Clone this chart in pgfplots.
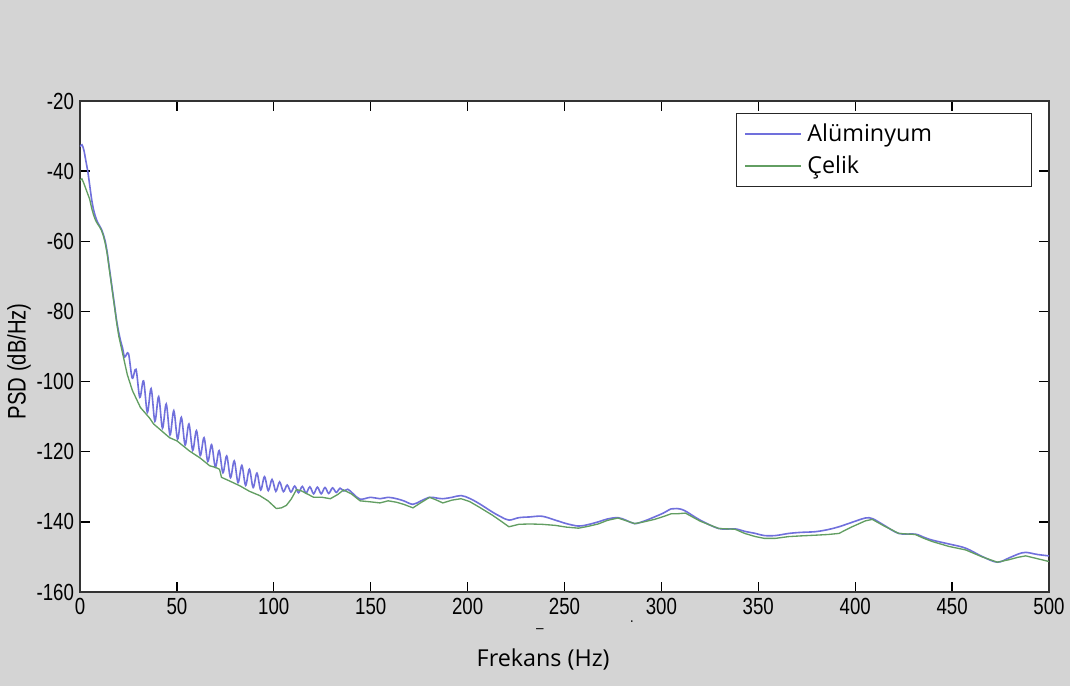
\documentclass[border=0pt]{standalone}
\usepackage{pgfplots}
\pgfplotsset{compat=1.18}
\usepackage{fontspec}
\setmainfont{Open Sans}
\newfontfamily\arialn[FakeStretch=0.8]{Liberation Sans}

\definecolor{bggrey}{RGB}{212,212,212}
\definecolor{alu}{RGB}{112,112,220}
\definecolor{celik}{RGB}{98,158,98}

\begin{document}
\begin{tikzpicture}
  % grey figure background and white plot area, 1 px = 0.75pt
  \fill[bggrey] (-60pt,-70.5pt) rectangle (742.5pt,444pt);
  \fill[white] (0pt,0pt) rectangle (726.75pt,368.25pt);
  \begin{axis}[
    at={(0,0)}, anchor=south west,
    scale only axis,
    width=726.75pt, height=368.25pt,
    xmin=0, xmax=500, ymin=-160, ymax=-20,
    xtick={0,50,...,500}, ytick={-160,-140,...,-20},
    tick align=inside, tick pos=both,
    major tick length=7.5pt,
    tick style={black, line width=1pt},
    axis line style={black!80, line width=0.8pt},
    /pgf/number format/assume math mode=true,
    tick label style={font=\arialn\fontsize{17.5}{20}\selectfont},
    xticklabel style={yshift=-1pt},
    yticklabel style={xshift=-1pt},
    xlabel={Frekans (Hz)},
    xlabel style={font=\fontsize{17.5}{20}\selectfont,
      at={(axis description cs:0.478,-0.138)}, anchor=center},
    ylabel={PSD (dB/Hz)},
    ylabel style={font=\arialn\fontsize{19}{22}\selectfont,
      at={(axis description cs:-0.063,0.47)}, anchor=center},
    legend style={at={(rel axis cs:0.677,0.9756)}, anchor=north west,
      draw=black!85, line width=0.8pt, fill=white,
      font=\fontsize{17.5}{20}\selectfont,
      inner xsep=6pt, inner ysep=6pt, row sep=5pt,
      nodes={inner xsep=4pt}},
    legend cell align=left,
    legend image code/.code={\draw[#1, line width=1.1pt] (0pt,0pt) -- (42pt,0pt);},
  ]
    \addplot[alu, line width=1.2pt, smooth, tension=0.55] coordinates {
      (0,-33) (1,-32.5) (2,-34) (3,-37) (4,-40) (5,-44) (6,-48) (7,-51)
      (8,-53) (9,-54.5) (10,-55.5) (11,-56.5) (12,-58) (13,-60) (14,-63)
      (15,-67) (16,-71) (17,-75) (18,-79) (19,-83) (20,-86) (21,-88.5)
      (22,-90.5) (23.05,-93) (25.0,-92) (26.95,-99) (28.9,-96.5)
      (30.85,-104.5) (32.8,-99.8) (34.75,-108.8) (36.7,-102) (38.65,-111.3)
      (40.6,-104.3) (42.55,-113.3) (44.5,-106.4) (46.45,-115.2) (48.4,-108.3)
      (50.35,-116.4) (52.3,-110.2) (54.25,-118.1) (56.2,-112.1) (58.15,-119.6)
      (60.1,-114) (62.05,-121.1) (64.0,-116) (65.95,-122.8) (67.9,-118)
      (69.85,-124.4) (71.8,-119.7) (73.75,-126) (75.7,-121.2) (77.65,-127.4)
      (79.6,-122.6) (81.55,-128.8) (83.5,-123.9) (85.45,-129.6) (87.4,-125)
      (89.35,-130.2) (91.3,-126.1) (93.25,-130.9) (95.2,-127.1) (97.15,-131.1)
      (99.1,-127.9) (101.05,-131.3) (103.0,-128.6) (104.95,-131.4)
      (106.9,-129.5) (108.85,-131.5) (110.8,-129.8) (112.75,-131.7)
      (114.7,-129.9) (116.65,-131.8) (118.6,-130) (120.55,-132) (122.5,-130.1)
      (124.45,-132) (126.4,-130.2) (128.35,-131.9) (130.3,-130.3)
      (132.25,-131.6) (134.2,-130.4) (136.15,-131.2) (138.1,-130.7)
      (140,-131.5) (144.5,-133.5) (150,-133) (154.8,-133.4) (159,-133)
      (163.3,-133.4) (167,-134) (171.8,-135) (176,-134) (180.4,-133)
      (184,-133.2) (187.2,-133.4) (192,-133) (196.6,-132.5) (201,-133.3)
      (206,-134.8) (212.8,-137.2) (217,-138.5) (221.3,-139.5) (226.5,-138.8)
      (232,-138.6) (238.4,-138.4) (245.2,-139.5) (251,-140.5) (257.2,-141.2)
      (262,-140.8) (267.4,-140) (272,-139.2) (277.6,-138.8) (282,-139.6)
      (286.2,-140.5) (291,-139.8) (296.4,-138.6) (301,-137.5) (305,-136.3)
      (308,-136.2) (312,-136.8) (320,-139.5) (329.6,-141.9) (338,-142)
      (343,-142.7) (348.5,-143.3) (353,-143.9) (358.9,-143.9) (365.7,-143.3)
      (372,-143) (379.5,-142.8) (386,-142.2) (391.6,-141.4) (398,-140.2)
      (405.3,-138.9) (409,-139.1) (415,-141) (422.5,-143.3) (431,-143.5)
      (435,-144.3) (439.7,-145.2) (448.3,-146.3) (457,-147.5) (465.6,-149.9)
      (473.3,-151.5) (479.3,-150.3) (484,-149.2) (488,-148.7) (494,-149.3)
      (500,-149.7)
    };
    \addlegendentry{\makebox[158pt][l]{Alüminyum}}

    \addplot[celik, line width=1pt] coordinates {
      (0,-42.6) (1,-42.2) (2,-43.5) (3,-45) (4,-46.5) (5,-48) (6,-50.5)
      (7,-52.5) (8,-54) (9,-55) (10,-55.8) (11,-56.8) (12,-58.3) (13,-60.5)
      (14,-63.5) (15,-67.5) (16,-71.5) (17,-75.5) (18,-79.5) (19,-83.5)
      (20,-87) (22,-92) (24.4,-98) (27,-102.5) (31.2,-107.4) (35.9,-110.4)
      (38,-112.1) (42,-114) (46.2,-116) (50,-116.9) (56.5,-119.8) (62,-121.8)
      (66.9,-124) (70,-124.5) (72,-125) (73,-127.3) (77,-128.3) (82.4,-129.7)
      (87.5,-131.3) (92.7,-132.5) (97,-134) (101.3,-136.2) (104,-136)
      (106.5,-135.3) (109,-133.5) (111.7,-130.8) (114,-131.1) (120.6,-133)
      (125,-133) (129.2,-133.4) (133,-132.2) (136,-130.9) (140,-132)
      (144.5,-134) (150,-134.3) (154.8,-134.6) (159,-134) (163.3,-134.4)
      (167,-135) (171.8,-136) (176,-134.5) (180.4,-133) (184,-133.8)
      (187.2,-134.6) (192,-133.8) (196.6,-133.4) (201,-134.2) (206,-135.8)
      (212.8,-138.1) (217,-139.7) (221.3,-141.4) (226.5,-140.7) (232,-140.6)
      (238.4,-140.7) (245.2,-141) (251,-141.5) (257.2,-141.8) (262,-141.3)
      (267.4,-140.6) (272,-139.6) (277.6,-138.9) (282,-139.7) (286.2,-140.5)
      (291,-140) (296.4,-139.3) (301,-138.5) (305,-137.7) (308,-137.7)
      (312.4,-137.5) (320,-139.8) (329.6,-141.9) (338,-142.1) (343,-143.3)
      (348.5,-144.2) (353,-144.7) (358.9,-144.7) (365.7,-144.2) (372,-144)
      (379.5,-143.8) (386,-143.6) (391.6,-143.3) (398,-141.5) (405.3,-139.7)
      (408.8,-139.3) (415,-141.2) (422.5,-143.3) (431,-143.6) (435,-144.6)
      (439.7,-145.6) (448.3,-147) (457,-148) (465.6,-150) (473.3,-151.5)
      (479.3,-150.8) (484,-150.1) (488,-149.7) (494,-150.5) (500,-151.3)
    };
    \addlegendentry{\makebox[158pt][l]{Çelik}}
  \end{axis}
  % small stray marks of the original
  \node[font=\arialn\fontsize{12}{12}\selectfont] at (345pt,-27pt) {\_};
  \node[font=\arialn\fontsize{12}{12}\selectfont] at (414pt,-22pt) {.};
  \node[font=\arialn\fontsize{12}{12}\selectfont] at (-46pt,135pt) {.};
  \pgfresetboundingbox
  \path[use as bounding box] (-60pt,-70.5pt) rectangle (742.5pt,444pt);
\end{tikzpicture}
\end{document}
